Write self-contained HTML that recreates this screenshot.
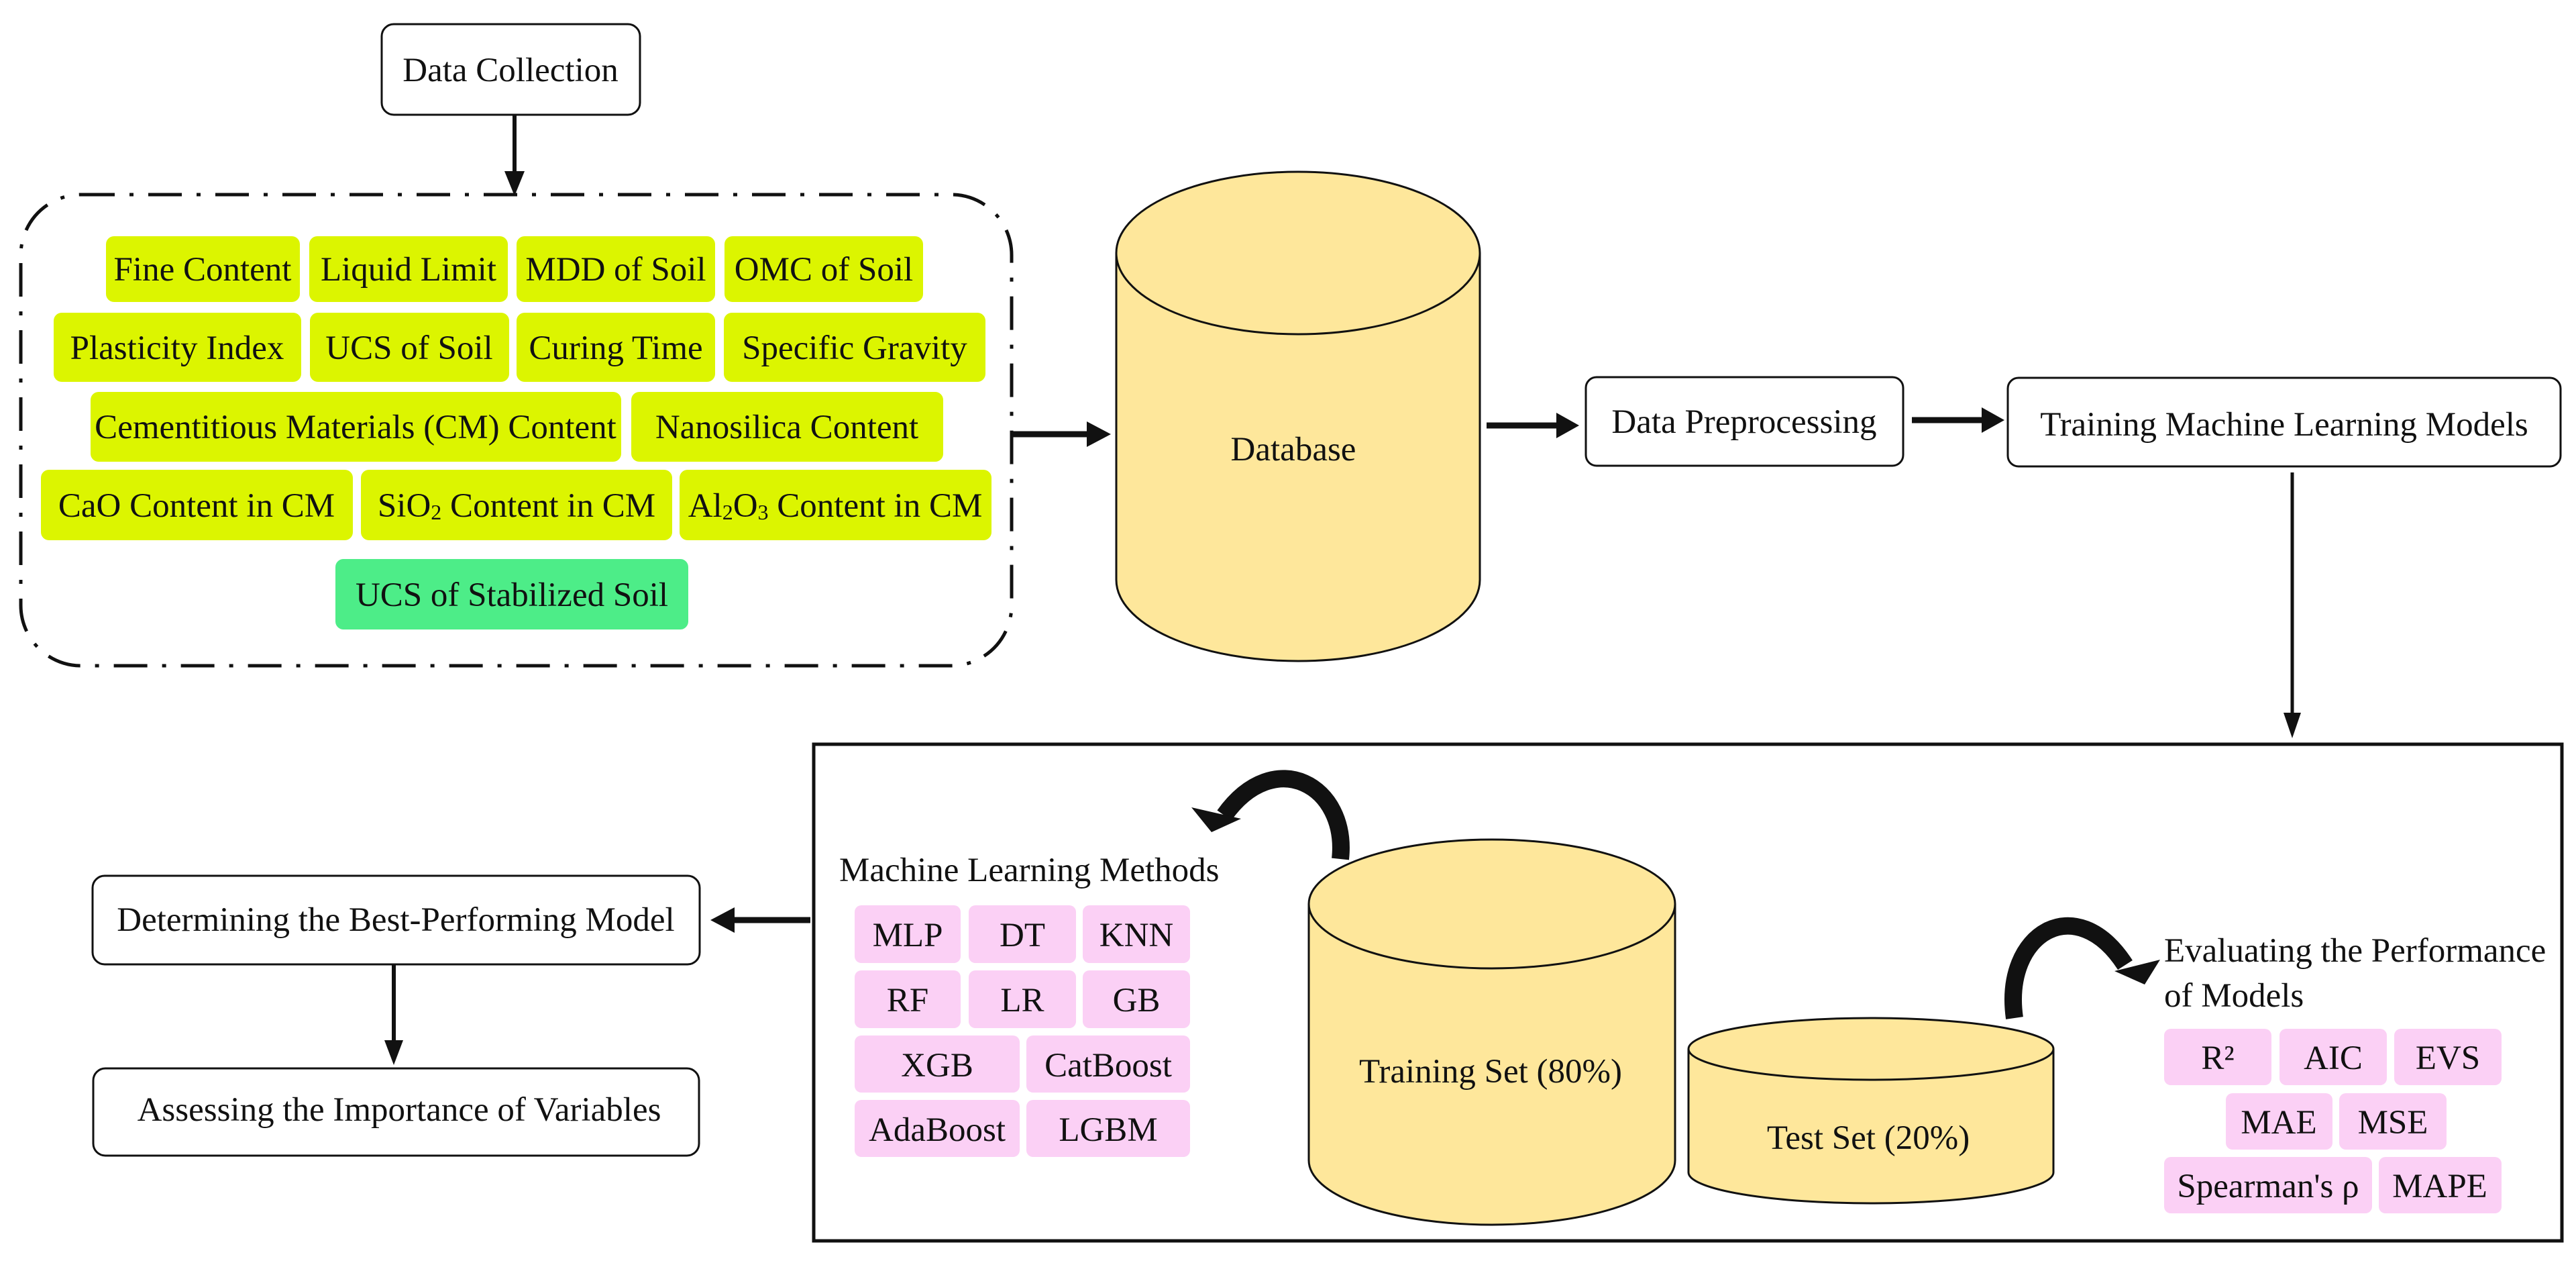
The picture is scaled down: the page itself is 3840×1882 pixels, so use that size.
<!DOCTYPE html>
<html><head><meta charset="utf-8"><style>
html,body{margin:0;padding:0;background:#fff;}
svg{display:block;}
text{font-family:"Liberation Serif",serif;font-size:51px;fill:#111;}
</style></head><body>
<svg width="3840" height="1882" viewBox="0 0 3840 1882" xmlns="http://www.w3.org/2000/svg">
<rect width="3840" height="1882" fill="#fff"/>
<!-- Data Collection -->
<rect x="569" y="36" width="385" height="135" rx="18" fill="#fff" stroke="#111" stroke-width="3"/>
<text x="761" y="121" text-anchor="middle">Data Collection</text>
<line x1="767" y1="171" x2="767" y2="260" stroke="#111" stroke-width="6"/>
<polygon points="752,255 782,255 767,292" fill="#111"/>
<!-- dashed box -->
<rect x="31" y="290" width="1477" height="702" rx="90" fill="none" stroke="#111" stroke-width="5" stroke-dasharray="50 22 6 22"/>
<g fill="#dcf500">
<rect x="158" y="352" width="289" height="98" rx="12"/>
<rect x="461" y="352" width="296" height="98" rx="12"/>
<rect x="770" y="352" width="296" height="98" rx="12"/>
<rect x="1080" y="352" width="296" height="98" rx="12"/>
<rect x="80" y="466" width="369" height="103" rx="12"/>
<rect x="462" y="466" width="297" height="103" rx="12"/>
<rect x="770" y="466" width="296" height="103" rx="12"/>
<rect x="1079" y="466" width="390" height="103" rx="12"/>
<rect x="135" y="584" width="791" height="104" rx="12"/>
<rect x="941" y="584" width="465" height="104" rx="12"/>
<rect x="61" y="700" width="465" height="105" rx="12"/>
<rect x="538" y="700" width="464" height="105" rx="12"/>
<rect x="1013" y="700" width="465" height="105" rx="12"/>
</g>
<rect x="500" y="833" width="526" height="105" rx="12" fill="#4ded88"/>
<g text-anchor="middle">
<text x="302" y="418">Fine Content</text>
<text x="609" y="418">Liquid Limit</text>
<text x="918" y="418">MDD of Soil</text>
<text x="1228" y="418">OMC of Soil</text>
<text x="264" y="535">Plasticity Index</text>
<text x="610" y="535">UCS of Soil</text>
<text x="918" y="535">Curing Time</text>
<text x="1274" y="535">Specific Gravity</text>
<text x="530" y="653">Cementitious Materials (CM) Content</text>
<text x="1173" y="653">Nanosilica Content</text>
<text x="293" y="770">CaO Content in CM</text>
<text x="770" y="770">SiO<tspan font-size="32" dy="4">2</tspan><tspan dy="-4"> Content in CM</tspan></text>
<text x="1245" y="770">Al<tspan font-size="32" dy="4">2</tspan><tspan dy="-4">O</tspan><tspan font-size="32" dy="4">3</tspan><tspan dy="-4"> Content in CM</tspan></text>
<text x="763" y="903">UCS of Stabilized Soil</text>
</g>
<!-- arrow to DB -->
<line x1="1510" y1="647" x2="1625" y2="647" stroke="#111" stroke-width="9"/>
<polygon points="1620,628 1656,647 1620,666" fill="#111"/>
<!-- Database cylinder -->
<path d="M1664 377 L1664 864 A271 121 0 0 0 2206 864 L2206 377" fill="#fee79b" stroke="#111" stroke-width="3"/>
<ellipse cx="1935" cy="377" rx="271" ry="121" fill="#fee79b" stroke="#111" stroke-width="3"/>
<text x="1928" y="686" text-anchor="middle">Database</text>
<line x1="2216" y1="634" x2="2325" y2="634" stroke="#111" stroke-width="9"/>
<polygon points="2320,615 2354,634 2320,653" fill="#111"/>
<rect x="2364" y="562" width="473" height="132" rx="16" fill="#fff" stroke="#111" stroke-width="3"/>
<text x="2600" y="645" text-anchor="middle">Data Preprocessing</text>
<line x1="2850" y1="626" x2="2958" y2="626" stroke="#111" stroke-width="9"/>
<polygon points="2954,607 2988,626 2954,645" fill="#111"/>
<rect x="2993" y="563" width="824" height="132" rx="16" fill="#fff" stroke="#111" stroke-width="3"/>
<text x="3405" y="649" text-anchor="middle">Training Machine Learning Models</text>
<line x1="3417" y1="704" x2="3417" y2="1070" stroke="#111" stroke-width="5"/>
<polygon points="3404,1062 3430,1062 3417,1100" fill="#111"/>
<!-- big box -->
<rect x="1213" y="1109" width="2606" height="740" fill="none" stroke="#111" stroke-width="5"/>
<!-- left flow -->
<line x1="1208" y1="1371" x2="1090" y2="1371" stroke="#111" stroke-width="9"/>
<polygon points="1095,1352 1059,1371 1095,1390" fill="#111"/>
<rect x="138" y="1305" width="905" height="132" rx="18" fill="#fff" stroke="#111" stroke-width="3"/>
<text x="590" y="1387" text-anchor="middle">Determining the Best-Performing Model</text>
<line x1="587" y1="1437" x2="587" y2="1555" stroke="#111" stroke-width="6"/>
<polygon points="573,1550 601,1550 587,1587" fill="#111"/>
<rect x="139" y="1592" width="903" height="130" rx="18" fill="#fff" stroke="#111" stroke-width="3"/>
<text x="595" y="1670" text-anchor="middle">Assessing the Importance of Variables</text>
<!-- ML methods -->
<text x="1251" y="1313">Machine Learning Methods</text>
<g fill="#fbd0f5">
<rect x="1274" y="1349" width="158" height="86" rx="10"/>
<rect x="1444" y="1349" width="160" height="86" rx="10"/>
<rect x="1614" y="1349" width="160" height="86" rx="10"/>
<rect x="1274" y="1446" width="158" height="86" rx="10"/>
<rect x="1444" y="1446" width="160" height="86" rx="10"/>
<rect x="1614" y="1446" width="160" height="86" rx="10"/>
<rect x="1274" y="1543" width="246" height="85" rx="10"/>
<rect x="1530" y="1543" width="244" height="85" rx="10"/>
<rect x="1274" y="1639" width="246" height="85" rx="10"/>
<rect x="1530" y="1639" width="244" height="85" rx="10"/>
</g>
<g text-anchor="middle">
<text x="1353" y="1410">MLP</text>
<text x="1524" y="1410">DT</text>
<text x="1694" y="1410">KNN</text>
<text x="1353" y="1507">RF</text>
<text x="1524" y="1507">LR</text>
<text x="1694" y="1507">GB</text>
<text x="1397" y="1604">XGB</text>
<text x="1652" y="1604">CatBoost</text>
<text x="1397" y="1700">AdaBoost</text>
<text x="1652" y="1700">LGBM</text>
</g>
<!-- training cylinder -->
<path d="M1951 1347 L1951 1729 A273 96 0 0 0 2497 1729 L2497 1347" fill="#fee79b" stroke="#111" stroke-width="3"/>
<ellipse cx="2224" cy="1347" rx="273" ry="96" fill="#fee79b" stroke="#111" stroke-width="3"/>
<text x="2222" y="1613" text-anchor="middle">Training Set (80%)</text>
<!-- test cylinder -->
<path d="M2517 1563 L2517 1747 A272 46 0 0 0 3061 1747 L3061 1563" fill="#fee79b" stroke="#111" stroke-width="3"/>
<ellipse cx="2789" cy="1563" rx="272" ry="46" fill="#fee79b" stroke="#111" stroke-width="3"/>
<text x="2785" y="1712" text-anchor="middle">Test Set (20%)</text>
<!-- curved arrows -->
<path d="M1998 1280 C2010 1170 1900 1110 1825 1215" fill="none" stroke="#111" stroke-width="26"/>
<polygon points="1776,1203 1850,1220 1806,1240" fill="#111"/>
<path d="M3003 1517 C2985 1390 3095 1325 3168 1438" fill="none" stroke="#111" stroke-width="26"/>
<polygon points="3152,1447 3220,1430 3197,1467" fill="#111"/>
<!-- evaluating -->
<text x="3226" y="1433">Evaluating the Performance</text>
<text x="3226" y="1500">of Models</text>
<g fill="#fbd0f5">
<rect x="3226" y="1533" width="160" height="84" rx="10"/>
<rect x="3398" y="1533" width="160" height="84" rx="10"/>
<rect x="3569" y="1533" width="160" height="84" rx="10"/>
<rect x="3318" y="1629" width="159" height="84" rx="10"/>
<rect x="3487" y="1629" width="160" height="84" rx="10"/>
<rect x="3226" y="1724" width="310" height="84" rx="10"/>
<rect x="3546" y="1724" width="183" height="84" rx="10"/>
</g>
<g text-anchor="middle">
<text x="3306" y="1593">R²</text>
<text x="3478" y="1593">AIC</text>
<text x="3649" y="1593">EVS</text>
<text x="3397" y="1689">MAE</text>
<text x="3567" y="1689">MSE</text>
<text x="3381" y="1784">Spearman's ρ</text>
<text x="3637" y="1784">MAPE</text>
</g>
</svg>
</body></html>
